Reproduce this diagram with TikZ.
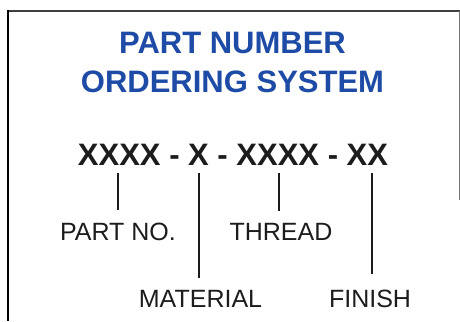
\documentclass[tikz,border=0pt]{standalone}
\usepackage{fontspec}
\setmainfont{Liberation Sans}
\definecolor{titleblue}{RGB}{30,75,165}
\definecolor{ink}{RGB}{28,28,28}
\begin{document}
\begin{tikzpicture}[x=1pt,y=-1pt,
  titletext/.style={anchor=base,inner sep=0pt,text=titleblue,font=\fontsize{31}{31}\selectfont\bfseries},
  codetext/.style={anchor=base,inner sep=0pt,text=ink,font=\fontsize{31}{31}\selectfont\bfseries},
  labeltext/.style={anchor=base,inner sep=0pt,text=ink,font=\fontsize{25}{25}\selectfont},
  leader/.style={draw=ink,line width=1.4pt}]
\useasboundingbox (0,0) rectangle (460,321);
% frame
\draw[line width=2pt,draw=black!75] (8,11) -- (460,11);
\draw[line width=2.4pt,draw=black] (8,10) -- (8,321);
\draw[line width=0.8pt,draw=black!55] (459,11) -- (459,200);
% title
\node[titletext] (t1) at (232.5,53) {PART NUMBER};
\node[titletext] (t2) at (232.5,92) {ORDERING SYSTEM};
% code
\node[codetext] (code) at (233,165) {XXXX - X - XXXX - XX};
\coordinate (c1) at (118,173);
\coordinate (c2) at (199,173);
\coordinate (c3) at (279,173);
\coordinate (c4) at (372,173);
% labels
\node[labeltext] (partno) at (118,240) {PART NO.};
\node[labeltext] (thread) at (281,240) {THREAD};
\node[labeltext] (material) at (200.5,307) {MATERIAL};
\node[labeltext] (finish) at (370,307) {FINISH};
% leaders
\draw[leader,shorten >=12pt] (c1) -- (c1 |- partno.north);
\draw[leader,shorten >=12pt] (c2) -- (c2 |- material.north);
\draw[leader,shorten >=12pt] (c3) -- (c3 |- thread.north);
\draw[leader,shorten >=15pt] (c4) -- (c4 |- finish.north);
\end{tikzpicture}
\end{document}
